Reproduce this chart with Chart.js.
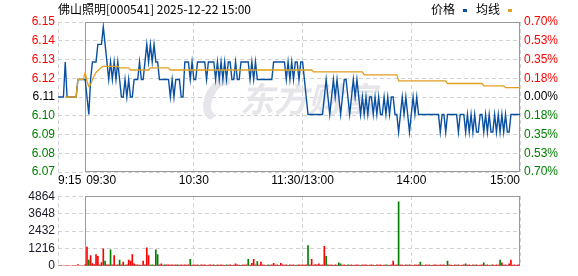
<!DOCTYPE html>
<html>
<head>
<meta charset="utf-8">
<script src="https://cdn.jsdelivr.net/npm/chart.js@4.4.1/dist/chart.umd.min.js"></script>
<style>
  html, body { margin: 0; padding: 0; background: #fff; }
  #wrap { position: relative; width: 578px; height: 276px; overflow: hidden; font-family: "Noto Sans CJK SC", sans-serif; }
  #title { position: absolute; left: 58px; top: 0; font-size: 12px; line-height: 18px; color: #000; white-space: nowrap; }
  #legend { position: absolute; left: 431px; top: 0; font-size: 12px; line-height: 18px; color: #000; white-space: nowrap; }
  #legend i { display: inline-block; width: 4px; height: 3px; vertical-align: middle; margin: 0 9px 0 8px; }
  #priceChart { position: absolute; left: 0; top: 0; }
  #volChart { position: absolute; left: 0; top: 186px; }
</style>
</head>
<body>
<div id="wrap">
  <canvas id="priceChart" width="578" height="190"></canvas>
  <canvas id="volChart" width="578" height="90"></canvas>
  <div id="title">佛山照明[000541] 2025-12-22 15:00</div>
  <div id="legend">价格<i style="background:#0a50a1"></i>均线<i style="background:#e0a020"></i></div>
</div>
<script>
const prevClose = 6.11;
const maxPct = 0.70;

// time axis: index 0 = 9:15, 15 = 09:30, lunch break collapsed
const timeLabels = ['9:15', '09:30', '10:30', '11:30/13:00', '14:00', '15:00'];
const timeIdx = [0, 15, 75, 135, 195, 255];
const openIdx = 15;

const volTicks = [0, 1216, 2432, 3648, 4864];

// pre-market 9:15 - 9:29
const prePrice = [6.11,6.11,6.11,6.11,6.13,6.11,6.11,6.11,6.11,6.11,6.11,6.12,6.12,6.12,6.12];
const preAvg = [null,null,null,null,6.11,6.11,6.11,6.11,6.11,6.11,6.11,6.12,6.12,6.12,6.12];
const preVolume = [0,0,0,0,0,0,0,0,0,0,0,90,0,0,0];

// 09:30 - 15:00, one value per minute
const price = [
  6.12,6.11,6.10,6.12,6.13,6.13,6.13,6.14,6.14,6.14,
  6.15,6.14,6.13,6.12,6.13,6.12,6.13,6.12,6.13,6.12,
  6.11,6.11,6.12,6.11,6.12,6.11,6.11,6.12,6.12,6.12,
  6.13,6.12,6.12,6.13,6.14,6.13,6.14,6.13,6.14,6.13,
  6.13,6.12,6.12,6.12,6.12,6.12,6.12,6.11,6.12,6.11,
  6.12,6.12,6.12,6.11,6.11,6.13,6.13,6.13,6.12,6.13,
  6.12,6.12,6.13,6.13,6.13,6.13,6.13,6.12,6.13,6.13,
  6.13,6.13,6.12,6.13,6.12,6.13,6.12,6.13,6.12,6.13,
  6.13,6.12,6.12,6.13,6.12,6.12,6.13,6.13,6.13,6.13,
  6.13,6.12,6.13,6.12,6.13,6.12,6.12,6.12,6.12,6.12,
  6.12,6.12,6.12,6.12,6.13,6.13,6.13,6.13,6.13,6.13,
  6.13,6.12,6.13,6.12,6.13,6.12,6.13,6.13,6.12,6.13,
  6.13,6.12,6.11,6.10,6.10,6.10,6.10,6.10,6.10,6.10,
  6.10,6.10,6.11,6.12,6.11,6.10,6.11,6.12,6.11,6.12,
  6.11,6.10,6.11,6.12,6.12,6.11,6.10,6.11,6.12,6.11,
  6.12,6.11,6.10,6.11,6.10,6.11,6.10,6.11,6.11,6.10,
  6.11,6.10,6.11,6.10,6.10,6.11,6.10,6.11,6.10,6.11,
  6.11,6.10,6.10,6.09,6.10,6.11,6.10,6.11,6.10,6.09,
  6.10,6.11,6.10,6.11,6.10,6.10,6.10,6.10,6.10,6.10,
  6.10,6.10,6.10,6.10,6.10,6.10,6.09,6.10,6.10,6.09,
  6.10,6.10,6.10,6.10,6.10,6.10,6.09,6.10,6.10,6.10,
  6.09,6.10,6.09,6.10,6.09,6.10,6.09,6.09,6.10,6.10,
  6.09,6.10,6.09,6.10,6.09,6.09,6.10,6.09,6.10,6.09,
  6.10,6.09,6.10,6.09,6.09,6.10,6.10,6.10,6.10,6.10,
  6.10
];

const avgPrice = [
  6.124,6.119,6.116,6.117,6.120,6.122,6.124,6.125,6.126,6.127,
  6.1275,6.1275,6.1275,6.1275,6.1275,6.1275,6.1275,6.1275,6.1275,6.1266,
  6.1266,6.1266,6.1266,6.1266,6.1266,6.1254,6.1254,6.1254,6.1254,6.1254,
  6.1254,6.1254,6.1254,6.1254,6.1254,6.1254,6.1266,6.1266,6.1266,6.1266,
  6.1266,6.1266,6.1266,6.1266,6.1266,6.1266,6.1266,6.1254,6.1254,6.1254,
  6.1254,6.1254,6.1254,6.1254,6.1254,6.1254,6.1254,6.1254,6.1254,6.1254,
  6.1254,6.1254,6.1254,6.1254,6.1254,6.1254,6.1254,6.1254,6.1254,6.1254,
  6.1254,6.1254,6.1254,6.1254,6.1254,6.1254,6.1254,6.1254,6.1254,6.1254,
  6.1254,6.1254,6.1254,6.1254,6.1254,6.1254,6.1254,6.1254,6.1254,6.1254,
  6.1254,6.1254,6.1254,6.1254,6.1254,6.1254,6.1254,6.1254,6.1254,6.1254,
  6.1254,6.1254,6.1254,6.1254,6.1254,6.1254,6.1254,6.1254,6.1254,6.1254,
  6.1254,6.1254,6.1254,6.1254,6.1254,6.1254,6.1254,6.1254,6.1254,6.1254,
  6.1254,6.1254,6.1254,6.1254,6.1254,6.1254,6.1243,6.1243,6.1243,6.1243,
  6.1243,6.1243,6.1243,6.1243,6.1243,6.1243,6.1243,6.1243,6.1243,6.1243,
  6.1243,6.1243,6.1243,6.1243,6.1243,6.1243,6.1243,6.1243,6.1243,6.1243,
  6.1243,6.1243,6.1243,6.1243,6.1226,6.1226,6.1226,6.1226,6.1226,6.1226,
  6.1226,6.1226,6.1226,6.1226,6.1226,6.1226,6.1226,6.1226,6.1226,6.1226,
  6.1226,6.1226,6.1226,6.1192,6.1192,6.1192,6.1192,6.1192,6.1192,6.1192,
  6.1192,6.1192,6.1192,6.1192,6.1192,6.1192,6.1192,6.1192,6.1192,6.1192,
  6.1192,6.1192,6.1192,6.1192,6.1192,6.1192,6.1192,6.1192,6.1192,6.1192,
  6.1177,6.1177,6.1177,6.1177,6.1177,6.1177,6.1177,6.1177,6.1177,6.1177,
  6.1177,6.1177,6.1177,6.1177,6.1177,6.1177,6.1177,6.1177,6.1177,6.1177,
  6.1164,6.1164,6.1164,6.1164,6.1164,6.1164,6.1164,6.1164,6.1164,6.1164,
  6.1164,6.1164,6.1153,6.1153,6.1153,6.1153,6.1153,6.1153,6.1153,6.1153,
  6.1153
];

const volume = [
  80,1314,400,720,150,90,790,660,60,220,
  1180,330,60,60,1120,70,720,50,60,400,
  60,260,50,60,400,330,790,130,60,60,
  50,40,330,60,1250,720,50,60,50,1120,
  790,60,130,50,60,70,60,50,60,50,
  60,60,50,60,50,60,50,60,460,50,
  60,50,60,40,60,50,60,40,50,60,
  50,60,40,60,50,60,50,40,60,50,
  60,40,50,130,60,50,40,60,50,60,
  460,50,180,460,60,300,50,260,60,50,
  40,60,50,60,180,50,60,40,180,60,
  50,60,40,60,50,60,40,50,60,50,
  60,50,60,1420,60,460,50,80,60,130,
  50,60,1360,660,60,50,60,40,60,50,
  200,130,50,60,40,60,50,60,40,50,
  60,50,40,60,50,60,40,50,60,50,
  40,60,50,60,40,50,60,50,40,60,
  330,50,60,4470,60,50,40,60,50,60,
  50,40,60,50,60,260,50,40,60,50,
  60,40,50,60,50,40,60,50,60,40,
  330,60,50,40,60,50,60,40,50,60,
  130,50,60,40,60,50,60,40,50,60,
  200,50,60,40,50,60,40,60,50,400,
  200,50,60,40,130,400,50,60,40,70,
  60
];

// minutes (from 09:30) whose volume bar is green, the rest are red
const greenBars = [2, 11, 14, 19, 22, 36, 37, 39, 40, 44, 51, 58, 63, 71, 78, 86, 90, 95, 101, 112,
    117, 123, 133, 140, 141, 145, 152, 160, 166, 173, 178, 185, 191, 200, 205, 210, 215, 220, 224, 229];

const RED = '#ff0000';
const GREEN = '#008000';
const BLUE = '#0a50a1';
const ORANGE = '#e0a020';
const GRID = '#d2d2d2';
const FRAME = '#999999';
const FONT = '"Liberation Sans", Arial, sans-serif';

const allPrice = prePrice.concat(price);
const allAvg = preAvg.concat(avgPrice);
const allVol = preVolume.concat(volume);

const yMax = prevClose * (1 + maxPct / 100);
const yMin = prevClose * (1 - maxPct / 100);
const lastIdx = timeIdx[timeIdx.length - 1];

const volColors = allVol.map((v, i) => greenBars.includes(i - openIdx) ? GREEN : RED);

// solid frame round the trading session, drawn over the dashed grid
const sessionFrame = {
    id: 'sessionFrame',
    beforeDatasetsDraw(chart) {
        const {ctx, chartArea, scales} = chart;
        const x0 = Math.round(scales.x.getPixelForValue(openIdx)) + 0.5;
        const x1 = Math.round(chartArea.right) - 0.5;
        const y0 = Math.round(chartArea.top) + 0.5;
        const y1 = Math.round(chartArea.bottom) - 0.5;
        ctx.save();
        ctx.strokeStyle = FRAME;
        ctx.lineWidth = 1;
        ctx.setLineDash([]);
        ctx.strokeRect(x0, y0, x1 - x0, y1 - y0);
        ctx.restore();
    }
};

// faint site logo behind the lines
const watermark = {
    id: 'watermark',
    beforeDatasetsDraw(chart) {
        const {ctx} = chart;
        ctx.save();
        ctx.strokeStyle = '#e6e6ea';
        ctx.lineWidth = 8;
        ctx.lineCap = 'round';
        ctx.beginPath();
        ctx.ellipse(220, 99, 11, 19, 0.45, Math.PI * 0.55, Math.PI * 1.45);
        ctx.stroke();
        ctx.fillStyle = '#e6e6ea';
        ctx.font = 'bold italic 34px "Noto Sans CJK SC"';
        ctx.textBaseline = 'middle';
        ctx.fillText('东方财富', 240, 99);
        ctx.restore();
    }
};

// time labels under the price panel: first left aligned, last right aligned
const timeAxisLabels = {
    id: 'timeAxisLabels',
    afterDraw(chart) {
        const {ctx, scales} = chart;
        ctx.save();
        ctx.font = '12px ' + FONT;
        ctx.fillStyle = '#000';
        ctx.textBaseline = 'middle';
        timeLabels.forEach((t, k) => {
            let x = scales.x.getPixelForValue(timeIdx[k]);
            if (k === 0) {
                ctx.textAlign = 'left';
            } else if (k === 1) {
                ctx.textAlign = 'left';
                x += 1;
            } else if (k === timeLabels.length - 1) {
                ctx.textAlign = 'right';
            } else {
                ctx.textAlign = 'center';
            }
            ctx.fillText(t, x, 181);
        });
        ctx.restore();
    }
};

const xScale = (height) => ({
    type: 'linear',
    min: 0,
    max: lastIdx,
    offset: false,
    afterBuildTicks: (scale) => {
        scale.ticks = timeIdx.map(v => ({value: v}));
    },
    afterFit: (scale) => {
        scale.height = height;
    },
    ticks: {display: false},
    grid: {color: GRID, drawTicks: false, offset: false},
    border: {display: false, dash: [4, 3]},
});

new Chart(document.getElementById('priceChart'), {
    type: 'line',
    data: {
        datasets: [
            {
                data: allAvg.map((v, i) => ({x: i, y: v})),
                borderColor: ORANGE,
                borderWidth: 1.3,
                pointRadius: 0,
                tension: 0,
                order: 0,
            },
            {
                data: allPrice.map((v, i) => ({x: i, y: v})),
                borderColor: BLUE,
                borderWidth: 1.4,
                pointRadius: 0,
                tension: 0,
                order: 1,
            },
        ],
    },
    options: {
        responsive: false,
        animation: false,
        events: [],
        layout: {
            padding: {top: 22, left: 0, right: 0, bottom: 0},
        },
        scales: {
            x: xScale(18),
            y: {
                position: 'left',
                min: yMin,
                max: yMax,
                afterBuildTicks: (scale) => {
                    const ticks = [];
                    for (let k = 0; k <= 8; k++) {
                        ticks.push({value: yMin + k * (yMax - yMin) / 8});
                    }
                    scale.ticks = ticks;
                },
                afterFit: (scale) => {
                    scale.width = 58;
                },
                ticks: {
                    padding: 3,
                    font: {family: FONT, size: 12},
                    callback: (v) => v.toFixed(2),
                    color: (c) => {
                        const d = c.tick.value - prevClose;
                        return d > 1e-6 ? RED : (d < -1e-6 ? GREEN : '#000');
                    },
                },
                grid: {color: GRID, drawTicks: false},
                border: {display: false, dash: [4, 3]},
            },
            y2: {
                position: 'right',
                min: yMin,
                max: yMax,
                afterBuildTicks: (scale) => {
                    const ticks = [];
                    for (let k = 0; k <= 8; k++) {
                        ticks.push({value: yMin + k * (yMax - yMin) / 8});
                    }
                    scale.ticks = ticks;
                },
                afterFit: (scale) => {
                    scale.width = 58;
                },
                ticks: {
                    padding: 4,
                    font: {family: FONT, size: 12},
                    callback: (v) => {
                        const pct = Math.abs(v / prevClose - 1) * 100;
                        return (Math.round(pct * 100 + 1e-6) / 100).toFixed(2) + '%';
                    },
                    color: (c) => {
                        const d = c.tick.value - prevClose;
                        return d > 1e-6 ? RED : (d < -1e-6 ? GREEN : '#000');
                    },
                },
                grid: {display: false, drawTicks: false},
                border: {display: false},
            },
        },
        plugins: {
            legend: {display: false},
            tooltip: {enabled: false},
        },
    },
    plugins: [watermark, sessionFrame, timeAxisLabels],
});

new Chart(document.getElementById('volChart'), {
    type: 'bar',
    data: {
        datasets: [
            {
                data: allVol.map((v, i) => ({x: i, y: v})),
                backgroundColor: volColors,
                borderWidth: 0,
                barThickness: 1,
            },
        ],
    },
    options: {
        responsive: false,
        animation: false,
        events: [],
        layout: {
            padding: {top: 10, left: 0, right: 58, bottom: 0},
        },
        scales: {
            x: xScale(6),
            y: {
                position: 'left',
                min: 0,
                max: volTicks[volTicks.length - 1],
                afterBuildTicks: (scale) => {
                    scale.ticks = volTicks.map(v => ({value: v}));
                },
                afterFit: (scale) => {
                    scale.width = 58;
                },
                ticks: {
                    padding: 3,
                    color: '#1a1a2a',
                    font: {family: FONT, size: 12},
                    callback: (v) => String(v),
                },
                grid: {color: GRID, drawTicks: false},
                border: {display: false, dash: [4, 3]},
            },
        },
        plugins: {
            legend: {display: false},
            tooltip: {enabled: false},
        },
    },
    plugins: [sessionFrame],
});
</script>
</body>
</html>
